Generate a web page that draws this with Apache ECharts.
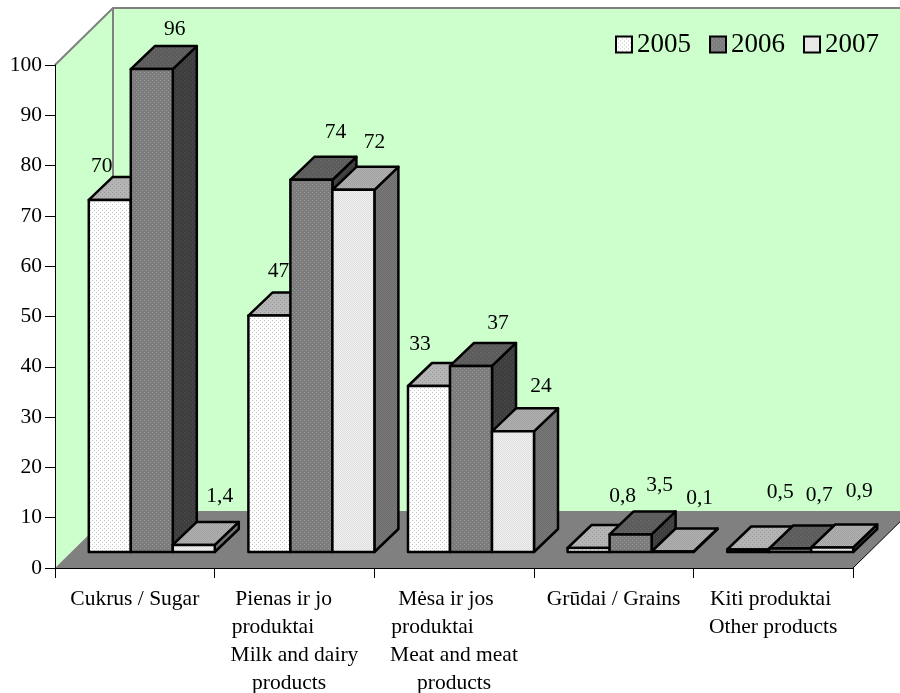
<!DOCTYPE html>
<html>
<head>
<meta charset="utf-8">
<style>html,body{margin:0;padding:0;background:#fff}#c{width:900px;height:693px}</style>
<script src="https://cdn.jsdelivr.net/npm/echarts@6/dist/echarts.min.js"></script>
</head>
<body>
<div id="c"></div>
<script>
const categories = [
  'Cukrus / Sugar',
  'Pienas ir jo    \nproduktai        \nMilk and dairy\nproducts  ',
  'Mėsa ir jos   \nproduktai        \nMeat and meat\nproducts',
  'Grūdai / Grains',
  'Kiti produktai \nOther products'
];
const yearNames = ['2005', '2006', '2007'];
const values2005 = [70, 47, 33, 0.8, 0.5];
const values2006 = [96, 74, 37, 3.5, 0.7];
const values2007 = [1.4, 72, 24, 0.1, 0.9];
const yTicks = { min: 0, max: 100, interval: 10 };

// hand-placed value label nudges, relative to the top of each bar's front face
const nudge2005 = [[-8,-34],[9,-44],[-9,-42],[34,-52],[32,-57]];
const nudge2006 = [[23,-40],[24,-47],[27,-43],[29,-49],[29,-53]];
const nudge2007 = [[26,-49],[21,-47],[28,-45],[27,-53],[27,-56]];

const FONT = '"Liberation Serif","Times New Roman",serif';
const DEPTH_X = 58, DEPTH_Y = 57;   // chart box depth
const BAR_DX = 17, BAR_DY = 16;     // bar position within depth
const BAR_W = 42, BAR_DEPTH_X = 24, BAR_DEPTH_Y = 23;

function dots(base, dot, step, checker) {
  const c = document.createElement('canvas');
  c.width = c.height = step * 2;
  const g = c.getContext('2d');
  g.fillStyle = base; g.fillRect(0, 0, step * 2, step * 2);
  g.fillStyle = dot;
  g.fillRect(0, 0, checker ? step : 1, checker ? step : 1);
  g.fillRect(step, step, checker ? step : 1, checker ? step : 1);
  return { image: c, repeat: 'repeat' };
}
const looks = [
  { front: dots('#ffffff', '#c4c4c4', 2), top: dots('#b4b4b4', '#9c9c9c', 2), side: dots('#8a8a8a', '#777777', 2) },
  { front: dots('#7c7c7c', '#999999', 2), top: dots('#5c5c5c', '#6e6e6e', 2), side: dots('#3e3e3e', '#505050', 2) },
  { front: dots('#f2f2f2', '#dcdcdc', 1, true), top: dots('#b2b2b2', '#a0a0a0', 1, true), side: dots('#7a7a7a', '#6c6c6c', 1, true) }
];

function wallsRender(params, api) {
  const s = params.coordSys;
  const L = s.x, R = s.x + s.width, T = s.y, B = s.y + s.height;
  const gray = '#808080';
  const poly = (pts, fill) => ({ type: 'polygon', shape: { points: pts }, style: { fill: fill, stroke: null } });
  return {
    type: 'group',
    children: [
      poly([[L + DEPTH_X, T - DEPTH_Y], [R + DEPTH_X, T - DEPTH_Y], [R + DEPTH_X, B - DEPTH_Y], [L + DEPTH_X, B - DEPTH_Y]], '#ccffcc'),
      poly([[L, T], [L + DEPTH_X, T - DEPTH_Y], [L + DEPTH_X, B - DEPTH_Y], [L, B]], '#ccffcc'),
      poly([[L, B], [L + DEPTH_X, B - DEPTH_Y], [R + DEPTH_X, B - DEPTH_Y], [R, B]], gray),
      { type: 'polyline', shape: { points: [[L, T], [L + DEPTH_X, T - DEPTH_Y], [R + DEPTH_X, T - DEPTH_Y]] },
        style: { fill: null, stroke: gray, lineWidth: 2 } },
      { type: 'line', shape: { x1: L + DEPTH_X, y1: T - DEPTH_Y, x2: L + DEPTH_X, y2: B - DEPTH_Y },
        style: { stroke: gray, lineWidth: 2 } },
      { type: 'line', shape: { x1: R, y1: B, x2: R + DEPTH_X, y2: B - DEPTH_Y },
        style: { stroke: '#000', lineWidth: 1 } }
    ]
  };
}

function barRender(seriesIdx, nudges) {
  return function (params, api) {
    const cat = api.value(0), val = api.value(1);
    const base = api.coord([cat, 0]), top = api.coord([cat, val]);
    const x0 = base[0] + BAR_DX + (seriesIdx - 1.5) * BAR_W;
    const x1 = x0 + BAR_W;
    const yB = base[1] - BAR_DY, yT = top[1] - BAR_DY;
    const dx = BAR_DEPTH_X, dy = BAR_DEPTH_Y;
    const look = looks[seriesIdx];
    const st = fill => ({ fill: fill, stroke: '#000', lineWidth: 2.5, lineJoin: 'round' });
    const n = nudges[params.dataIndex];
    return {
      type: 'group',
      children: [
        { type: 'polygon', shape: { points: [[x1, yB], [x1 + dx, yB - dy], [x1 + dx, yT - dy], [x1, yT]] }, style: st(look.side) },
        { type: 'polygon', shape: { points: [[x0, yT], [x1, yT], [x1 + dx, yT - dy], [x0 + dx, yT - dy]] }, style: st(look.top) },
        { type: 'polygon', shape: { points: [[x0, yB], [x1, yB], [x1, yT], [x0, yT]] }, style: st(look.front) },
        { type: 'text', z2: 50, style: {
            text: String(val).replace('.', ','), x: (x0 + x1) / 2 + n[0], y: yT + n[1],
            align: 'center', verticalAlign: 'middle', fill: '#000', font: '21.5px ' + FONT } }
      ]
    };
  };
}

function barSeries(name, idx, vals, nudges) {
  return {
    type: 'custom', name: name, z: 3 + idx,
    coordinateSystem: 'cartesian2d',
    renderItem: barRender(idx, nudges),
    encode: { x: 0, y: 1 },
    itemStyle: { color: looks[idx].front, borderColor: '#000', borderWidth: 2.5 },
    data: vals.map((v, i) => [i, v])
  };
}

const chart = echarts.init(document.getElementById('c'), null, { renderer: 'canvas' });
chart.setOption({
  animation: false,
  backgroundColor: '#fff',
  textStyle: { fontFamily: FONT, color: '#000' },
  grid: { left: 55, right: 47, top: 65, height: 503, outerBoundsMode: 'none', containLabel: false },
  legend: {
    data: yearNames, left: 615, top: 31, itemWidth: 16, itemHeight: 16, itemGap: 18,
    icon: 'rect', padding: 0, selectedMode: false,
    textStyle: { fontFamily: FONT, fontSize: 27, color: '#000', padding: [0, 0, 0, 0] }
  },
  xAxis: {
    type: 'category', data: categories, z: 10,
    axisLine: { lineStyle: { color: '#000', width: 1 } },
    axisTick: { show: true, length: 10, lineStyle: { color: '#000' } },
    axisLabel: { interval: 0, margin: 17, fontFamily: FONT, fontSize: 21.5, color: '#000', lineHeight: 28, hideOverlap: false }
  },
  yAxis: {
    type: 'value', min: yTicks.min, max: yTicks.max, interval: yTicks.interval, z: 10,
    splitLine: { show: false },
    axisLine: { show: true, lineStyle: { color: '#000', width: 1 } },
    axisTick: { show: true, length: 10, lineStyle: { color: '#000' } },
    axisLabel: { margin: 13, fontFamily: FONT, fontSize: 21.5, color: '#000', padding: [4, 0, 0, 0] }
  },
  series: [
    { type: 'custom', name: 'walls', z: 1, silent: true, coordinateSystem: 'cartesian2d',
      renderItem: wallsRender, encode: { x: 0, y: 1 }, data: [[0, 0]] },
    barSeries(yearNames[0], 0, values2005, nudge2005),
    barSeries(yearNames[1], 1, values2006, nudge2006),
    barSeries(yearNames[2], 2, values2007, nudge2007)
  ]
});
</script>
</body>
</html>
